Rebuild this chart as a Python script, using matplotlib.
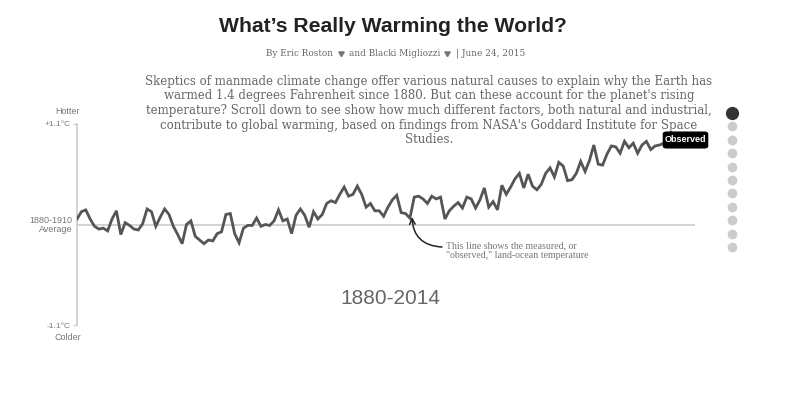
import matplotlib.pyplot as plt
from matplotlib.patches import FancyBboxPatch

# Observed land-ocean temperature, anomaly vs 1880-1910 average (deg C)
years = list(range(1880, 2015))
observed = [
    0.06, 0.14, 0.16, 0.06, -0.02, -0.05, -0.04, -0.07, 0.06, 0.15,
    -0.11, 0.02, -0.01, -0.05, -0.06, 0.01, 0.17, 0.14, -0.02, 0.08,
    0.17, 0.11, -0.02, -0.11, -0.21, 0.00, 0.04, -0.13, -0.17, -0.21,
    -0.17, -0.18, -0.10, -0.08, 0.11, 0.12, -0.10, -0.20, -0.04, -0.01,
    -0.01, 0.07, -0.02, 0.00, -0.01, 0.04, 0.16, 0.04, 0.06, -0.10,
    0.10, 0.17, 0.10, -0.03, 0.14, 0.06, 0.11, 0.23, 0.26, 0.24,
    0.33, 0.41, 0.31, 0.33, 0.42, 0.33, 0.19, 0.23, 0.15, 0.15,
    0.09, 0.19, 0.27, 0.32, 0.13, 0.12, 0.07, 0.30, 0.31, 0.28,
    0.23, 0.31, 0.28, 0.30, 0.06, 0.15, 0.20, 0.24, 0.18, 0.30,
    0.28, 0.18, 0.27, 0.40, 0.19, 0.25, 0.16, 0.43, 0.33, 0.41,
    0.50, 0.56, 0.40, 0.55, 0.42, 0.38, 0.44, 0.56, 0.62, 0.52,
    0.68, 0.64, 0.48, 0.49, 0.56, 0.69, 0.58, 0.70, 0.87, 0.66,
    0.65, 0.77, 0.86, 0.85, 0.78, 0.91, 0.84, 0.89, 0.78, 0.87,
    0.91, 0.82, 0.86, 0.87, 0.89,
]
y_ticks = [1.1, -1.1]
y_tick_labels = ['+1.1°C', '-1.1°C']
n_dots = 11

W, H = 800, 418
fig = plt.figure(figsize=(W / 100, H / 100), dpi=100)


def fx(x):
    return x / W


def fy(y):
    return 1 - y / H


sans = ['Liberation Sans', 'DejaVu Sans']
serif = ['DejaVu Serif']
serif2 = ['Liberation Serif', 'DejaVu Serif']

# main axes
ax = fig.add_axes([fx(77), fy(325), fx(695) - fx(77), fy(124) - fy(325)])
ax.set_xlim(1880, 1880 + 618 / 4.38)
ax.set_ylim(-1.1, 1.1)
for s in ['top', 'right', 'bottom']:
    ax.spines[s].set_visible(False)
ax.spines['left'].set_color('#cccccc')
ax.spines['left'].set_linewidth(1.2)
ax.set_xticks([])
ax.set_yticks(y_ticks)
ax.set_yticklabels(y_tick_labels, family=sans, fontsize=6, color='#777777')
ax.tick_params(axis='y', length=3, width=1, color='#cccccc', pad=1.5)
ax.axhline(0, color='#cccccc', lw=1.2, zorder=1)
ax.plot(years, observed, color='#555555', lw=2, solid_joinstyle='miter', zorder=3)

# axis side labels
fig.text(fx(72), fy(225), '1880-1910\nAverage', ha='right', va='center',
         family=sans, fontsize=6.5, color='#777777', linespacing=0.95)
fig.text(fx(80), fy(112), 'Hotter', ha='right', va='center', family=sans,
         fontsize=6.5, color='#777777')
fig.text(fx(81), fy(338), 'Colder', ha='right', va='center', family=sans,
         fontsize=6.5, color='#777777')

# Observed label
fig.patches.append(FancyBboxPatch((fx(665), fy(147)), fx(41), fy(133) - fy(147),
                                  boxstyle='round,pad=0.002,rounding_size=0.004',
                                  transform=fig.transFigure, facecolor='black',
                                  edgecolor='black', zorder=5))
fig.text(fx(685.5), fy(140), 'Observed', ha='center', va='center', family=sans,
         fontsize=6.5, color='white', weight='bold', zorder=6)

# annotation arrow
ax.annotate('', xy=(fx(412), fy(217)), xycoords='figure fraction',
            xytext=(fx(442), fy(247)), textcoords='figure fraction',
            arrowprops=dict(arrowstyle='->', color='#222222', lw=1.1,
                            connectionstyle='arc3,rad=-0.45', shrinkA=0, shrinkB=0))
fig.text(fx(446), fy(250.5), 'This line shows the measured, or\n"observed," land-ocean temperature',
         ha='left', va='center', family=serif2, fontsize=7.15, color='#777777', linespacing=1.1)

fig.text(fx(390), fy(299), '1880-2014', ha='center', va='center', family=sans,
         fontsize=15, color='#666666')

# title and byline
fig.text(fx(393), fy(27), 'What\u2019s Really Warming the World?', ha='center', va='center',
         family=sans, fontsize=15.2, weight='bold', color='#222222')
fig.text(fx(333), fy(53), 'By Eric Roston', ha='right', va='center', family=serif,
         fontsize=6.4, color='#666666')
fig.text(fx(349), fy(53), 'and Blacki Migliozzi', ha='left', va='center', family=serif,
         fontsize=6.4, color='#666666')
fig.text(fx(456), fy(53), '| June 24, 2015', ha='left', va='center', family=serif,
         fontsize=6.4, color='#666666')
for bx in [341, 447]:
    fig.add_artist(plt.Line2D([fx(bx)], [fy(53)], marker=(3, 0, 180), markersize=4.5,
                              color='#777777', transform=fig.transFigure))

intro = ["Skeptics of manmade climate change offer various natural causes to explain why the Earth has",
         "warmed 1.4 degrees Fahrenheit since 1880. But can these account for the planet's rising",
         "temperature? Scroll down to see show how much different factors, both natural and industrial,",
         "contribute to global warming, based on findings from NASA's Goddard Institute for Space",
         "Studies."]
for i, line in enumerate(intro):
    fig.text(fx(429), fy(81 + 14.7 * i), line, ha='center', va='center', family=serif,
             fontsize=8.45, color='#666666')

# scroll dots
for i in range(n_dots):
    big = i == 0
    fig.add_artist(plt.Line2D([fx(732)], [fy(113 + 13.4 * i)], marker='o',
                              markersize=8.5 if big else 6,
                              color='#333333' if big else '#cccccc',
                              transform=fig.transFigure))

fig.savefig('out.png', dpi=100)
